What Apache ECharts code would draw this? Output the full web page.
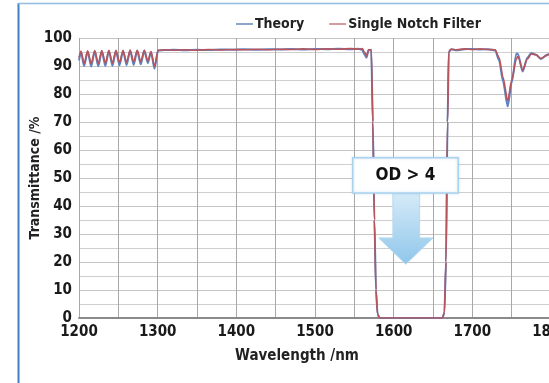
<!DOCTYPE html>
<html>
<head>
<meta charset="utf-8">
<script src="https://cdn.jsdelivr.net/npm/echarts@6/dist/echarts.min.js"></script>
<style>
  html, body { margin: 0; padding: 0; background: #ffffff; }
  #chart { width: 549px; height: 383px; }
</style>
</head>
<body>
<div id="chart"></div>
<script>
// Transmittance spectra of a single notch filter (measured) and its design (theory)
const wavelength = [
  1200, 1202.5, 1206.5, 1211, 1215.5, 1220, 1224.5, 1229, 1233.5, 1238, 1242.5,
  1247, 1251.5, 1256, 1260.5, 1265, 1269.5, 1274, 1278.5, 1283, 1287.5, 1291.5,
  1296, 1300.5, 1310, 1320, 1335, 1350, 1365, 1380, 1395, 1410, 1425, 1440,
  1455, 1470, 1485, 1500, 1515, 1530, 1545, 1555, 1560, 1563, 1565.5, 1568,
  1571.5, 1573.5, 1575.5, 1577.5, 1579.5, 1582, 1662, 1664.5, 1666.5, 1668.5,
  1670, 1673, 1680, 1690, 1700, 1710, 1720, 1729, 1734, 1739, 1745, 1750,
  1756, 1758, 1764, 1770, 1775, 1781, 1787, 1795, 1800
];
const theory = [
  92.0, 95.0, 90.0, 95.2, 89.8, 95.3, 89.9, 95.3, 90.0, 95.4, 90.0,
  95.4, 90.2, 95.4, 90.3, 95.5, 90.4, 95.5, 90.6, 95.5, 91.0, 95.0,
  89.0, 95.5, 95.7, 95.8, 95.6, 95.8, 95.7, 95.9, 95.8, 96.0, 95.8, 96.0,
  95.9, 96.1, 95.9, 96.1, 96.0, 96.2, 96.0, 96.2, 95.8, 94.0, 93.0, 95.6,
  95.8, 70, 35, 10, 1.5, 0, 0, 2, 20, 70,
  95.0, 96.0, 95.6, 96.0, 96.1, 95.9, 96.0, 95.6, 92.0, 84.5, 75.5, 84.0,
  94.5, 94.3, 88.0, 93.0, 94.6, 94.0, 92.5, 94.0, 94.8
];
const notch = [
  93.0, 95.3, 90.8, 95.4, 90.8, 95.5, 90.9, 95.5, 91.0, 95.6, 91.0,
  95.6, 91.2, 95.6, 91.3, 95.7, 91.4, 95.6, 91.5, 95.6, 91.8, 95.2,
  89.8, 95.6, 95.8, 95.6, 95.8, 95.6, 95.9, 95.7, 95.9, 95.8, 96.0, 95.8,
  96.0, 95.9, 96.1, 95.9, 96.1, 96.0, 96.2, 96.0, 96.2, 95.0, 93.5, 95.8,
  95.8, 70, 35, 10, 1.5, 0, 0, 2, 20, 70,
  95.0, 96.0, 95.8, 96.1, 95.9, 96.1, 95.9, 95.8, 93.0, 86.0, 77.5, 85.0,
  92.5, 93.5, 88.5, 92.5, 94.3, 94.0, 92.7, 93.8, 94.8
];
const seriesNames = ['Theory', 'Single Notch Filter'];
const xTicks = [1200, 1300, 1400, 1500, 1600, 1700, 1800];
const yTicks = [0, 10, 20, 30, 40, 50, 60, 70, 80, 90, 100];
const calloutText = 'OD > 4';

const FONT = "'Liberation Sans Narrow', 'DejaVu Sans Condensed', 'Roboto', sans-serif";
const chart = echarts.init(document.getElementById('chart'), null, { renderer: 'canvas' });

const option = {
  animation: false,
  backgroundColor: '#ffffff',
  textStyle: { fontFamily: FONT },
  legend: {
    data: [
      { name: seriesNames[0], itemStyle: { color: '#8ea5cb' } },
      { name: seriesNames[1], itemStyle: { color: '#d29c9e' } }
    ],
    left: 231, top: 12,
    icon: 'rect', itemWidth: 17, itemHeight: 2, itemGap: 25,
    textStyle: { fontFamily: FONT, fontWeight: 'bold', fontSize: 14, color: '#222', padding: [0, 0, 0, -3] }
  },
  grid: { left: 79, right: -2, top: 38, bottom: 65, containLabel: false, outerBoundsMode: 'none' },
  xAxis: {
    type: 'value', min: xTicks[0], max: xTicks[xTicks.length - 1], interval: 100,
    name: 'Wavelength /nm', nameLocation: 'middle', nameGap: 31, nameMoveOverlap: false,
    nameTextStyle: { fontFamily: FONT, fontWeight: 'bold', fontSize: 15, color: '#222', padding: [0, 36, 0, 0] },
    axisLine: { show: true, lineStyle: { color: '#8a8a8a', width: 2 } },
    axisTick: { show: false },
    axisLabel: { margin: 7, fontFamily: FONT, fontWeight: 'bold', fontSize: 15, color: '#1a1a1a',
                 formatter: v => String(v) },
    splitLine: { show: true, lineStyle: { color: '#a8a8a8', width: 1 } },
    minorTick: { show: false, splitNumber: 2 },
    minorSplitLine: { show: true, lineStyle: { color: '#a8a8a8', width: 1 } }
  },
  yAxis: {
    type: 'value', min: yTicks[0], max: yTicks[yTicks.length - 1], interval: 10,
    name: 'Transmittance /%', nameLocation: 'middle', nameGap: 37, nameRotate: 90, nameMoveOverlap: false,
    nameTextStyle: { fontFamily: FONT, fontWeight: 'bold', fontSize: 14, color: '#222' },
    axisLine: { show: false },
    axisTick: { show: false },
    axisLabel: { margin: 7, fontFamily: FONT, fontWeight: 'bold', fontSize: 15, color: '#1a1a1a',
                 formatter: v => String(v) },
    splitLine: { show: true, lineStyle: { color: '#c4c4c4', width: 1 } },
    minorTick: { show: false, splitNumber: 2 },
    minorSplitLine: { show: true, lineStyle: { color: '#cfcfcf', width: 1 } }
  },
  series: [
    {
      name: seriesNames[0], type: 'line', symbol: 'none', smooth: 0.25, smoothMonotone: 'x',
      lineStyle: { color: '#5d84c2', width: 2 }, itemStyle: { color: '#5d84c2' },
      data: wavelength.map((w, i) => [w, theory[i]]), z: 2
    },
    {
      name: seriesNames[1], type: 'line', symbol: 'none', smooth: 0.25, smoothMonotone: 'x',
      lineStyle: { color: '#b8545c', width: 1.6 }, itemStyle: { color: '#b8545c' },
      data: wavelength.map((w, i) => [w, notch[i]]), z: 3
    }
  ]
};
chart.setOption(option);

// Callout box with a downward arrow, anchored in data coordinates
function px(x, y) { return chart.convertToPixel({ xAxisIndex: 0, yAxisIndex: 0 }, [x, y]); }
const boxTL = px(1548, 57.2), boxBR = px(1682, 44.6);
const shaftL = px(1599, 44.6), shaftR = px(1633, 28.6);
const headL = px(1581, 28.6), headR = px(1650, 28.6), tip = px(1615.5, 19.2);

chart.setOption({
  graphic: [
    { type: 'line', shape: { x1: 18.5, y1: 3, x2: 18.5, y2: 400 }, style: { stroke: '#3f80c2', lineWidth: 2 }, z: 100 },
    { type: 'line', shape: { x1: 18, y1: 3.5, x2: 560, y2: 3.5 }, style: { stroke: '#93bbe2', lineWidth: 1.5 }, z: 100 },
    {
      type: 'polygon', z: 50,
      shape: { points: [
        [shaftL[0], shaftL[1]], [shaftR[0], shaftL[1]], [shaftR[0], shaftR[1]],
        [headR[0], headR[1]], [tip[0], tip[1]], [headL[0], headL[1]], [shaftL[0], shaftR[1]]
      ] },
      style: {
        fill: new echarts.graphic.LinearGradient(0, 0, 0, 1, [
          { offset: 0, color: '#d6ebf8' }, { offset: 1, color: '#8fc6ea' }
        ]),
        stroke: '#b5d9f0', lineWidth: 1
      }
    },
    {
      type: 'rect', z: 51,
      shape: { x: boxTL[0], y: boxTL[1], width: boxBR[0] - boxTL[0], height: boxBR[1] - boxTL[1] },
      style: { fill: '#ffffff', stroke: '#a9d2ee', lineWidth: 1.5, shadowBlur: 3, shadowColor: 'rgba(120,170,210,0.35)' }
    },
    {
      type: 'text', z: 52,
      x: (boxTL[0] + boxBR[0]) / 2, y: (boxTL[1] + boxBR[1]) / 2,
      style: { text: calloutText, fontFamily: FONT, fontWeight: 'bold', fontSize: 17, fill: '#111',
               align: 'center', verticalAlign: 'middle' }
    }
  ]
});
</script>
</body>
</html>
